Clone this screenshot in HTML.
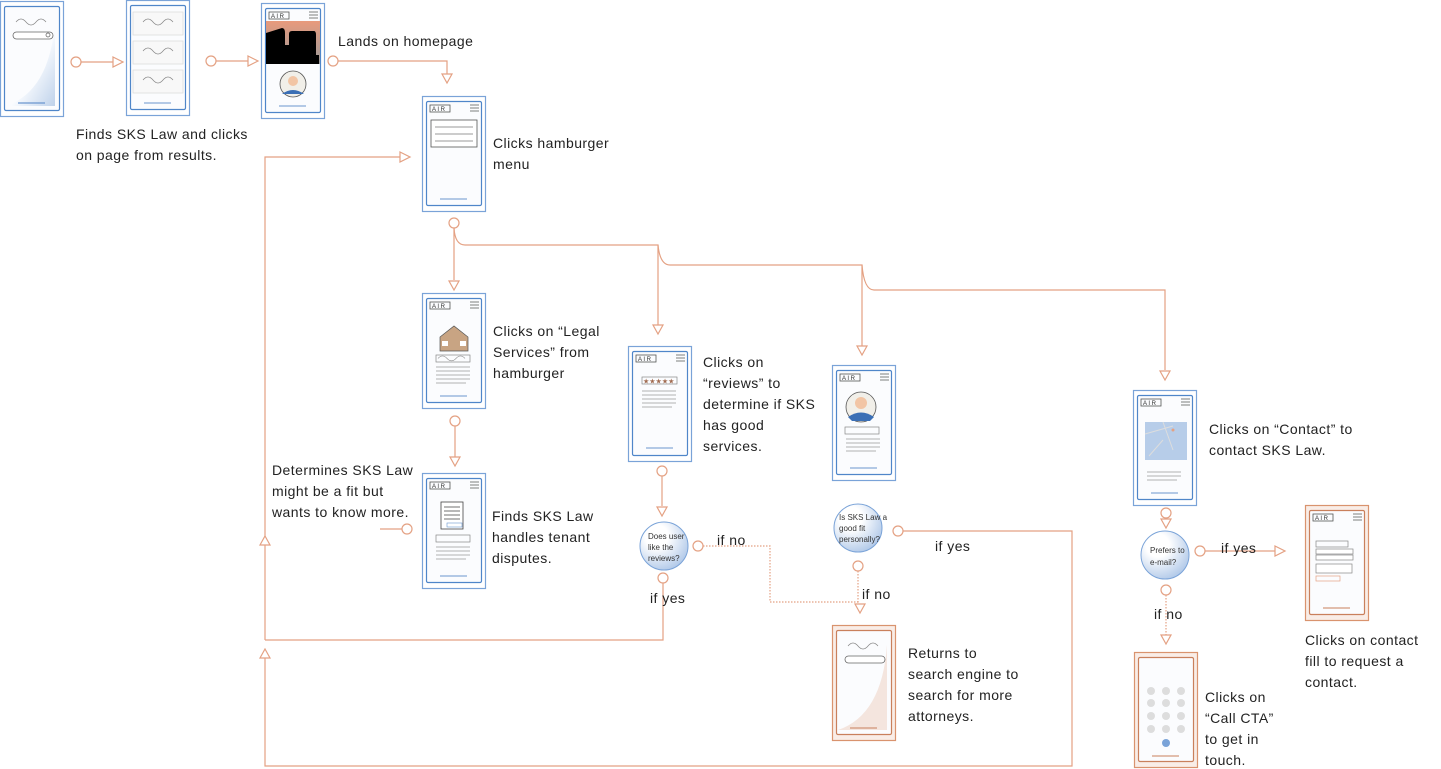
<!DOCTYPE html>
<html><head><meta charset="utf-8"><style>
html,body{margin:0;padding:0;background:#fff;}
svg{display:block;}
text{font-family:"Liberation Sans",sans-serif;fill:#222;}
.t{font-size:14px;letter-spacing:0.45px;}
.s{font-size:8px;fill:#333;}
.c{fill:none;stroke:#e4a183;stroke-width:1.2;}
.d{fill:none;stroke:#e4a183;stroke-width:1.2;stroke-dasharray:1.5 1.5;}
.ah{fill:#fff;stroke:#e4a183;stroke-width:1.2;}
.oc{fill:#fff;stroke:#e4a183;stroke-width:1.2;}
</style></head><body>
<svg width="1441" height="769" viewBox="0 0 1441 769" xmlns="http://www.w3.org/2000/svg">
<defs>
<linearGradient id="pg" x1="0" y1="0" x2="1" y2="1"><stop offset="0.55" stop-color="#fafcff"/><stop offset="1" stop-color="#b8cde8"/></linearGradient>
<radialGradient id="cg" cx="0.35" cy="0.3" r="0.8"><stop offset="0.3" stop-color="#ffffff"/><stop offset="1" stop-color="#a9c3e6"/></radialGradient>
<linearGradient id="sk" x1="0" y1="0" x2="0" y2="1"><stop offset="0" stop-color="#e89a7c"/><stop offset="1" stop-color="#9a9a9a"/></linearGradient>
<g id="pb"><rect x="0.5" y="0.5" width="63" height="115" fill="#fff" stroke="#7aa3d8" stroke-width="1.2"/><rect x="4.5" y="5.5" width="55" height="104" fill="#fbfcfe" stroke="#4f86c9" stroke-width="1.2" rx="1.5"/></g>
<g id="po"><rect x="0.5" y="0.5" width="63" height="115" fill="#f9ede7" stroke="#d9936e" stroke-width="1.2"/><rect x="4.5" y="5.5" width="55" height="104" fill="#fbfcfe" stroke="#c9805c" stroke-width="1.2" rx="1.5"/></g>
<g id="hd"><rect x="8" y="9" width="20" height="7" fill="none" stroke="#555" stroke-width="0.8"/><text x="10" y="15" style="font-size:6px;fill:#333">A I R</text><path d="M48 9h9M48 12h9M48 15h9" stroke="#555" stroke-width="0.8"/></g>
<g id="wv"><path d="M0 3 q5 -6 10 0 q5 6 10 0 q5 -6 10 0" fill="none" stroke="#888" stroke-width="0.7"/></g>
<g id="ar"><path d="M-5 -9 L5 -9 L0 0 Z" class="ah"/></g>
<g id="ac"><path d="M-10 -5 L0 0 L-10 5 Z" class="ah"/></g>
</defs>

<circle cx="76" cy="62" r="5" class="oc"/><path d="M81 62H113" class="c"/><use href="#ac" x="123" y="62"/>
<circle cx="211" cy="61" r="5" class="oc"/><path d="M216 61H248" class="c"/><use href="#ac" x="258" y="61"/>
<circle cx="333" cy="61" r="5" class="oc"/><path d="M338 61H447V74" class="c"/><use href="#ar" x="447" y="83"/>
<path d="M265 640V157H400" class="c"/><use href="#ac" x="410" y="157"/>
<path d="M260 545L265 536L270 545Z" class="ah"/>
<circle cx="454" cy="223" r="5" class="oc"/><path d="M454 228V280" class="c"/><use href="#ar" x="454" y="290"/>
<path d="M454 228 Q455 245 465 245H658V325" class="c"/><use href="#ar" x="658" y="334"/>
<path d="M658 245 Q660 265 670 265H862V346" class="c"/><use href="#ar" x="862" y="355"/>
<path d="M862 265 Q864 290 874 290H1165V370" class="c"/><use href="#ar" x="1165" y="380"/>
<circle cx="455" cy="421" r="5" class="oc"/><path d="M455 426V457" class="c"/><use href="#ar" x="455" y="466"/>
<circle cx="407" cy="529" r="5" class="oc"/><path d="M402 529H380" class="c"/>
<circle cx="662" cy="471" r="5" class="oc"/><path d="M662 476V506" class="c"/><use href="#ar" x="662" y="516"/>
<circle cx="663" cy="578" r="5" class="oc"/><path d="M663 583V640H265" class="c"/>
<circle cx="698" cy="546" r="5" class="oc"/><path d="M703 546H770V602H860" class="d"/>
<circle cx="858" cy="566" r="5" class="oc"/><path d="M858 571V603" class="d"/><use href="#ar" x="860" y="613"/>
<circle cx="898" cy="531" r="5" class="oc"/><path d="M903 531H1072V766H265V655" class="c"/><path d="M260 658L265 649L270 658Z" class="ah"/>
<circle cx="1166" cy="513" r="5" class="oc"/><use href="#ar" x="1166" y="528"/>
<circle cx="1200" cy="551" r="5" class="oc"/><path d="M1205 551H1275" class="c"/><use href="#ac" x="1285" y="551"/>
<circle cx="1166" cy="590" r="5" class="oc"/><path d="M1166 595V635" class="d"/><use href="#ar" x="1166" y="644"/>

<g transform="translate(0,1)"><use href="#pb"/><path d="M6 105 Q50 90 55 20 V105Z" fill="url(#pg)" opacity="0.9"/><g transform="translate(16,18)"><use href="#wv"/></g><rect x="13" y="31" width="40" height="7" rx="3.5" fill="#fff" stroke="#666" stroke-width="0.8"/><circle cx="48" cy="34" r="2" fill="none" stroke="#555" stroke-width="0.7"/><path d="M18 102H45" stroke="#6b96cf" stroke-width="1.2"/></g>
<g transform="translate(126,0)"><use href="#pb"/><rect x="7" y="12" width="50" height="23" fill="#f8f8f8" stroke="#ddd" stroke-width="0.8"/><rect x="7" y="41" width="50" height="23" fill="#f8f8f8" stroke="#ddd" stroke-width="0.8"/><rect x="7" y="70" width="50" height="23" fill="#f8f8f8" stroke="#ddd" stroke-width="0.8"/><g transform="translate(17,19)"><use href="#wv"/></g><g transform="translate(17,48)"><use href="#wv"/></g><g transform="translate(17,77)"><use href="#wv"/></g><path d="M18 103H45" stroke="#6b96cf" stroke-width="1"/></g>
<g transform="translate(261,3)"><use href="#pb"/><use href="#hd"/><rect x="5" y="18" width="54" height="43" fill="url(#sk)"/><path d="M5 30 L21 25 Q24 25 24 30 V42 H28 V31 Q28 28 31 28 H53 Q55 28 55 32 V52 H58 V61 H5Z" fill="#000"/><circle cx="32" cy="81" r="13" fill="#f1efe9" stroke="#555" stroke-width="0.8"/><circle cx="32" cy="78" r="5" fill="#f2c5a5"/><path d="M21 91 Q32 83 43 91" fill="#3b6fb5"/><path d="M18 103H45" stroke="#6b96cf" stroke-width="1"/></g>
<g transform="translate(422,96)"><use href="#pb"/><use href="#hd"/><rect x="9" y="24" width="46" height="27" fill="#fff" stroke="#555" stroke-width="0.8"/><path d="M13 31H51M13 38H51M13 45H51" stroke="#777" stroke-width="0.8"/><path d="M18 103H45" stroke="#6b96cf" stroke-width="1"/></g>
<g transform="translate(422,293)"><use href="#pb"/><use href="#hd"/><path d="M18 44 L32 33 L46 44 V58 H18Z" fill="#c8a483" stroke="#555" stroke-width="0.7"/><rect x="20" y="48" width="6" height="5" fill="#fff"/><rect x="38" y="48" width="6" height="5" fill="#fff"/><rect x="14" y="62" width="34" height="7" fill="none" stroke="#888" stroke-width="0.7"/><g transform="translate(16,63) scale(0.9,0.8)"><use href="#wv"/></g><path d="M14 74h34M14 78h34M14 82h34M14 86h34M14 90h30" stroke="#999" stroke-width="0.7"/><path d="M18 103H45" stroke="#6b96cf" stroke-width="1"/></g>
<g transform="translate(422,473)"><use href="#pb"/><use href="#hd"/><rect x="19" y="29" width="22" height="27" fill="#fff" stroke="#444" stroke-width="0.8"/><path d="M22 34h16M22 38h16M22 42h16M22 46h16" stroke="#444" stroke-width="0.7"/><rect x="25" y="50" width="15" height="4" fill="none" stroke="#6b96cf" stroke-width="0.6"/><rect x="14" y="62" width="34" height="7" fill="none" stroke="#888" stroke-width="0.7"/><path d="M14 74h34M14 78h34M14 82h34M14 86h30" stroke="#999" stroke-width="0.7"/><path d="M18 103H45" stroke="#6b96cf" stroke-width="1"/></g>
<g transform="translate(628,346)"><use href="#pb"/><use href="#hd"/><rect x="14" y="31" width="35" height="7" fill="none" stroke="#888" stroke-width="0.7"/><text x="15" y="37.5" style="font-size:7px;fill:#a06a4f">★★★★★</text><path d="M14 45h34M14 49h34M14 53h34M14 57h34M14 61h30" stroke="#999" stroke-width="0.7"/><path d="M18 102H45" stroke="#6b96cf" stroke-width="1"/></g>
<g transform="translate(832,365)"><use href="#pb"/><use href="#hd"/><circle cx="29" cy="42" r="15" fill="#f1efe9" stroke="#555" stroke-width="0.8"/><circle cx="29" cy="38" r="6" fill="#f2c5a5"/><path d="M16 52 Q29 43 42 52 L38 56 H20Z" fill="#3b6fb5"/><rect x="13" y="62" width="34" height="7" fill="none" stroke="#888" stroke-width="0.7"/><path d="M14 74h34M14 78h34M14 82h34M14 86h30" stroke="#999" stroke-width="0.7"/><path d="M18 103H45" stroke="#6b96cf" stroke-width="1"/></g>
<g transform="translate(1133,390)"><use href="#pb"/><use href="#hd"/><rect x="12" y="32" width="42" height="38" fill="#b7cde9"/><path d="M12 44L40 36M30 32L40 60M16 66L30 50" stroke="#ddd" stroke-width="1" fill="none"/><circle cx="40" cy="40" r="1.5" fill="#e4a183"/><path d="M14 82h34M14 86h34M14 90h30" stroke="#999" stroke-width="0.7"/><path d="M18 103H45" stroke="#6b96cf" stroke-width="1"/></g>
<g transform="translate(832,625)"><use href="#po"/><path d="M6 105 Q50 90 55 20 V105Z" fill="#f0d6c8" opacity="0.6"/><g transform="translate(16,18)"><use href="#wv"/></g><rect x="13" y="31" width="40" height="7" rx="3.5" fill="#fff" stroke="#666" stroke-width="0.8"/><path d="M18 103H45" stroke="#c9805c" stroke-width="1"/></g>
<g transform="translate(1134,652)"><use href="#po"/>
<g fill="#ddd"><circle cx="17" cy="39" r="4"/><circle cx="32" cy="39" r="4"/><circle cx="47" cy="39" r="4"/><circle cx="17" cy="51" r="4"/><circle cx="32" cy="51" r="4"/><circle cx="47" cy="51" r="4"/><circle cx="17" cy="64" r="4"/><circle cx="32" cy="64" r="4"/><circle cx="47" cy="64" r="4"/><circle cx="17" cy="77" r="4"/><circle cx="32" cy="77" r="4"/><circle cx="47" cy="77" r="4"/></g><circle cx="32" cy="91" r="4" fill="#7aa3d8"/><path d="M18 104H45" stroke="#c9805c" stroke-width="1"/></g>
<g transform="translate(1305,505)"><use href="#po"/><use href="#hd"/><rect x="11" y="36" width="32" height="6" fill="none" stroke="#888" stroke-width="0.7"/><rect x="11" y="44" width="37" height="5" fill="#fff" stroke="#888" stroke-width="0.7"/><rect x="11" y="50" width="37" height="5" fill="#fff" stroke="#888" stroke-width="0.7"/><rect x="11" y="59" width="36" height="9" fill="#fff" stroke="#888" stroke-width="0.7"/><rect x="11" y="71" width="24" height="5" fill="none" stroke="#e4a183" stroke-width="0.7"/><path d="M18 103H45" stroke="#c9805c" stroke-width="1"/></g>

<circle cx="664" cy="546" r="24" fill="url(#cg)" stroke="#7aa3d8" stroke-width="1"/>
<text class="s" x="648" y="539">Does user</text><text class="s" x="648" y="550">like the</text><text class="s" x="648" y="561">reviews?</text>
<circle cx="858" cy="528" r="24" fill="url(#cg)" stroke="#7aa3d8" stroke-width="1"/>
<text class="s" x="839" y="520">Is SKS Law a</text><text class="s" x="839" y="531">good fit</text><text class="s" x="839" y="542">personally?</text>
<circle cx="1165" cy="555" r="24" fill="url(#cg)" stroke="#7aa3d8" stroke-width="1"/>
<text class="s" x="1150" y="553">Prefers  to</text><text class="s" x="1150" y="565">e-mail?</text>

<g class="t">
<text x="76" y="139">Finds SKS Law and clicks</text><text x="76" y="160">on page from results.</text>
<text x="338" y="46">Lands on homepage</text>
<text x="493" y="148">Clicks hamburger</text><text x="493" y="169">menu</text>
<text x="493" y="336">Clicks on “Legal</text><text x="493" y="357">Services” from</text><text x="493" y="378">hamburger</text>
<text x="272" y="475">Determines SKS Law</text><text x="272" y="496">might be a fit but</text><text x="272" y="517">wants to know more.</text>
<text x="492" y="521">Finds SKS Law</text><text x="492" y="542">handles tenant</text><text x="492" y="563">disputes.</text>
<text x="703" y="367">Clicks on</text><text x="703" y="388">“reviews” to</text><text x="703" y="409">determine if SKS</text><text x="703" y="430">has good</text><text x="703" y="451">services.</text>
<text x="717" y="545">if no</text>
<text x="650" y="603">if yes</text>
<text x="935" y="551">if yes</text>
<text x="862" y="599">if no</text>
<text x="908" y="658">Returns to</text><text x="908" y="679">search engine to</text><text x="908" y="700">search for more</text><text x="908" y="721">attorneys.</text>
<text x="1209" y="434">Clicks on “Contact” to</text><text x="1209" y="455">contact SKS Law.</text>
<text x="1221" y="553">if yes</text>
<text x="1154" y="619">if no</text>
<text x="1305" y="645">Clicks on contact</text><text x="1305" y="666">fill to request a</text><text x="1305" y="687">contact.</text>
<text x="1205" y="702">Clicks on</text><text x="1205" y="723">“Call CTA”</text><text x="1205" y="744">to get in</text><text x="1205" y="765">touch.</text>
</g>
</svg>
</body></html>
